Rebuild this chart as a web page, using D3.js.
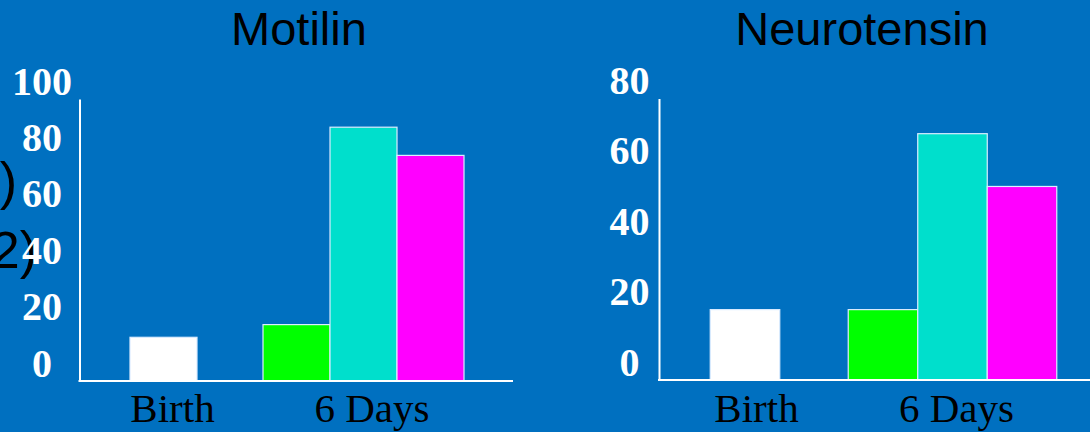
<!DOCTYPE html>
<html>
<head>
<meta charset="utf-8">
<script src="https://cdn.jsdelivr.net/npm/d3@7"></script>
<style>
  html, body { margin: 0; padding: 0; background: #0070c0; overflow: hidden; }
  svg { display: block; }
</style>
</head>
<body>
<svg id="chart" width="1090" height="432"></svg>
<script>
// Categories and series
const categories = ["Birth", "6 Days"];
const sixDaySeries = ["Group A", "Group B", "Group C"];
const birthColor = "#ffffff";
const sixDayColors = ["#00ff00", "#00dfcc", "#ff00ff"];

// Motilin values
const motilinBirth = [15.5];
const motilinSixDays = [20, 90, 80];
const motilinTicks = [0, 20, 40, 60, 80, 100];

// Neurotensin values
const neurotensinBirth = [20];
const neurotensinSixDays = [20, 70, 55];
const neurotensinTicks = [0, 20, 40, 60, 80];

const svg = d3.select("#chart");

svg.append("rect").attr("width", 1090).attr("height", 432).attr("fill", "#0070c0");

// Partial side labels at the left edge
svg.append("text").attr("x", 17).attr("y", 199)
  .attr("text-anchor", "end")
  .style("font-family", "'Liberation Sans', Arial, sans-serif")
  .style("font-size", "52px").attr("fill", "#000").text(")");
svg.append("text").attr("x", 37).attr("y", 268)
  .attr("text-anchor", "end")
  .style("font-family", "'Liberation Sans', Arial, sans-serif")
  .style("font-size", "52px").attr("fill", "#000").text("2)");

function panel(opts) {
  const g = svg.append("g");
  const y = d3.scaleLinear().domain([0, opts.max]).range([opts.bottom, opts.top]);
  const x = d3.scaleBand().domain(categories).range(opts.band).paddingInner(0).paddingOuter(0);
  const barW = x.bandwidth() * 0.335;

  // Title
  g.append("text")
    .attr("x", opts.titleX).attr("y", 45)
    .attr("text-anchor", "middle")
    .style("font-family", "'Liberation Sans', Arial, sans-serif")
    .style("font-size", "47px")
    .attr("fill", "#000")
    .text(opts.title);

  // Bars: Birth single bar, 6 Days grouped bars
  const birthX = x("Birth") + x.bandwidth() / 2 - barW / 2;
  g.selectAll(".birth").data(opts.birth).join("rect")
    .attr("x", birthX)
    .attr("y", d => y(d))
    .attr("width", barW)
    .attr("height", d => y(0) - y(d))
    .attr("fill", birthColor)
    .attr("stroke", "#dcecff").attr("stroke-width", 1.2);

  const inner = d3.scaleBand().domain(sixDaySeries)
    .range([x("6 Days") + x.bandwidth() / 2 - 1.5 * barW, x("6 Days") + x.bandwidth() / 2 + 1.5 * barW]);
  g.selectAll(".six").data(opts.six).join("rect")
    .attr("x", (d, i) => inner(sixDaySeries[i]))
    .attr("y", d => y(d))
    .attr("width", inner.bandwidth())
    .attr("height", d => y(0) - y(d))
    .attr("fill", (d, i) => sixDayColors[i])
    .attr("stroke", "#dcecff").attr("stroke-width", 1.2);

  // Y axis
  const yAxis = g.append("g")
    .attr("transform", `translate(${opts.axisX},0)`)
    .call(d3.axisLeft(y).tickValues(opts.ticks).tickSize(0).tickSizeOuter(0).tickFormat(d3.format("d")));
  yAxis.select(".domain").attr("stroke", "#fff").attr("stroke-width", 2);
  yAxis.selectAll("text")
    .attr("x", opts.labelX - opts.axisX)
    .attr("dy", -5)
    .attr("text-anchor", "middle")
    .attr("fill", "#fff")
    .style("font-family", "'Liberation Serif', 'Times New Roman', serif")
    .style("font-weight", "bold")
    .style("font-size", "40px");

  // X baseline
  g.append("line")
    .attr("x1", opts.axisX - 1).attr("x2", opts.axisEnd)
    .attr("y1", y(0)).attr("y2", y(0))
    .attr("stroke", "#fff").attr("stroke-width", 2);

  // Category labels
  g.selectAll(".cat").data(categories).join("text")
    .attr("x", (d, i) => x(d) + x.bandwidth() / 2 + opts.catOffset[i])
    .attr("y", 422)
    .attr("text-anchor", "middle")
    .style("font-family", "'Liberation Serif', 'Times New Roman', serif")
    .style("font-size", "41px")
    .attr("fill", "#000")
    .text(d => d);
}

panel({
  title: "Motilin", titleX: 299,
  max: 100, ticks: motilinTicks,
  top: 99, bottom: 381,
  band: [63.5, 463.5],
  axisX: 79.5, axisEnd: 513, labelX: 42,
  birth: motilinBirth, six: motilinSixDays,
  catOffset: [9, 8.5]
});

panel({
  title: "Neurotensin", titleX: 862,
  max: 80, ticks: neurotensinTicks,
  top: 98.5, bottom: 380,
  band: [641.25, 1056.25],
  axisX: 659, axisEnd: 1100, labelX: 629.5,
  birth: neurotensinBirth, six: neurotensinSixDays,
  catOffset: [11.5, 4]
});
</script>
</body>
</html>
